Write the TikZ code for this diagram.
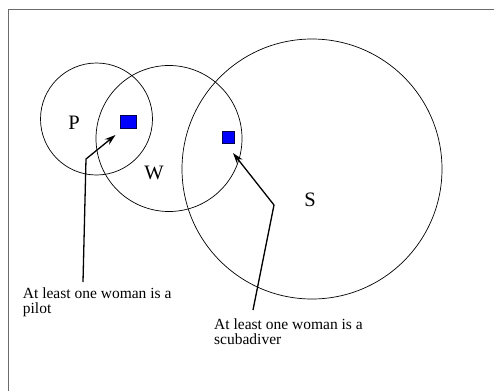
\documentclass[tikz,border=0pt]{standalone}
\usepackage{fontspec}
\setmainfont{Liberation Serif}
\usetikzlibrary{arrows.meta}
\begin{document}
\begin{tikzpicture}[x=1pt,y=-1pt,
  setcircle/.style={circle,draw=black,line width=0.7pt,inner sep=0pt},
  bluebox/.style={draw=black!70!blue,fill=blue,line width=0.7pt,inner sep=0pt},
  setlabel/.style={font=\fontsize{20.5}{22}\selectfont,inner sep=0pt,anchor=base},
  note/.style={font=\fontsize{15.5}{15.5}\selectfont,inner sep=0pt,align=left,anchor=base west},
  pointer/.style={line width=1.3pt,-{Stealth[length=11pt,width=7pt]}}]
\useasboundingbox (0,0) rectangle (494,391);
% frame
\draw[draw=black!58,line width=1.6pt] (8.3,391) -- (8.3,9.5) -- (494,9.5);
% circles
\node[setcircle,minimum size=112pt] (P) at (96.5,119) {};
\node[setcircle,minimum size=146pt] (W) at (169,138.5) {};
\node[setcircle,minimum size=260pt] (S) at (312,169) {};
% labels
\node[setlabel] (lP) at (74,129) {P};
\node[setlabel] (lW) at (154,179) {W};
\node[setlabel] (lS) at (310,206) {S};
% blue boxes
\node[bluebox,minimum width=16pt,minimum height=12.5pt] (b1) at (128.7,122) {};
\node[bluebox,minimum width=12pt,minimum height=12pt] (b2) at (228,137) {};
% notes
\node[note] (n1) at (22.7,313.5) {At least one woman is a\\pilot};
\node[note] (n2) at (214,344.5) {At least one woman is a\\scubadiver};
% pointers
\coordinate (s1) at (83,282);
\coordinate (k1) at (86,159);
\coordinate (t1) at (115.5,135);
\coordinate (s2) at (253,310);
\coordinate (k2) at (274,205);
\coordinate (t2) at (233,153);
\draw[pointer] (s1) -- (k1) -- (t1);
\draw[pointer] (s2) -- (k2) -- (t2);
\end{tikzpicture}
\end{document}
